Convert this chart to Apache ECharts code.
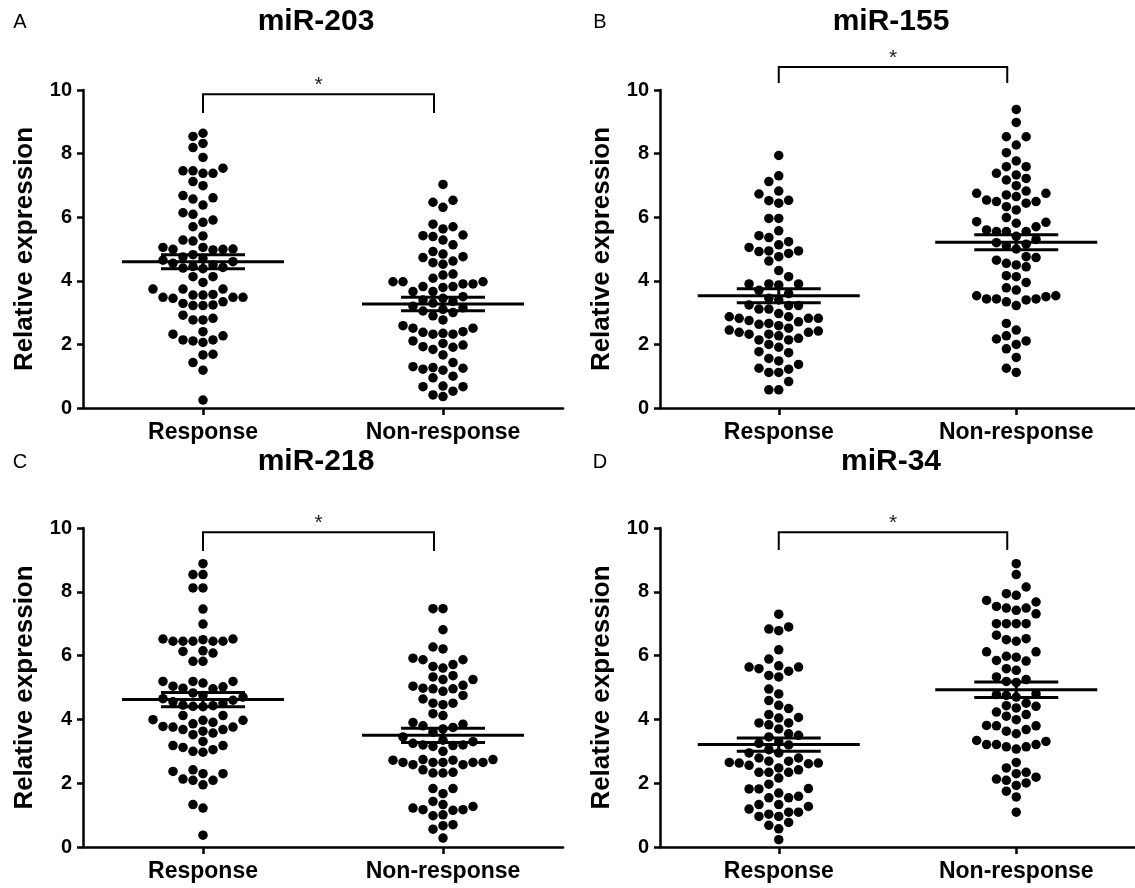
<!DOCTYPE html>
<html>
<head>
<meta charset="utf-8">
<title>miRNA expression by response</title>
<script src="https://cdn.jsdelivr.net/npm/echarts@6.0.0/dist/echarts.min.js"></script>
<style>
  html, body { margin: 0; padding: 0; background: #fff; }
  #chart { width: 1135px; height: 888px; }
</style>
</head>
<body>
<div id="chart"></div>
<script>
  // categories and axis ticks
  const categories = ['Response', 'Non-response']
  const yTicks = [0, 2, 4, 6, 8, 10]

  // values (relative expression)
  const mir203Response = [8.64, 8.54, 8.32, 8.19, 7.88, 7.54, 7.46, 7.46, 7.38, 7.38, 7.12, 6.99, 6.68, 6.61, 6.57, 6.38, 6.14, 6.09, 5.91, 5.84, 5.70, 5.41, 5.28, 5.25, 5.05, 5.05, 5.0, 4.99, 4.99, 4.97, 4.82, 4.75, 4.7, 4.65, 4.6, 4.55, 4.5, 4.45, 4.42, 4.4, 4.38, 4.13, 4.13, 3.95, 3.74, 3.74, 3.74, 3.57, 3.55, 3.55, 3.48, 3.48, 3.48, 3.45, 3.34, 3.29, 3.24, 3.22, 3.22, 2.92, 2.82, 2.77, 2.77, 2.40, 2.32, 2.27, 2.14, 2.14, 2.11, 2.06, 1.69, 1.67, 1.43, 1.19, 0.25]
  const mir203NonResponse = [7.03, 6.53, 6.47, 6.31, 5.78, 5.70, 5.63, 5.44, 5.42, 5.39, 5.28, 5.13, 4.92, 4.84, 4.76, 4.73, 4.62, 4.57, 4.52, 4.21, 4.18, 4.08, 3.97, 3.97, 3.97, 3.90, 3.90, 3.82, 3.82, 3.79, 3.66, 3.66, 3.5, 3.45, 3.4, 3.35, 3.3, 3.2, 3.15, 3.1, 3.05, 3.0, 2.9, 2.77, 2.59, 2.51, 2.51, 2.40, 2.38, 2.35, 2.32, 2.32, 2.11, 2.03, 1.98, 1.93, 1.91, 1.84, 1.67, 1.43, 1.30, 1.27, 1.25, 1.22, 1.19, 1.0, 0.95, 0.69, 0.67, 0.67, 0.53, 0.41, 0.36]
  const mir155Response = [7.94, 7.30, 7.12, 6.82, 6.73, 6.53, 6.52, 6.44, 5.96, 5.96, 5.57, 5.42, 5.36, 5.23, 5.13, 5.05, 4.94, 4.94, 4.92, 4.86, 4.76, 4.62, 4.32, 4.13, 3.90, 3.90, 3.90, 3.87, 3.7, 3.6, 3.45, 3.4, 3.24, 3.22, 3.22, 3.11, 3.11, 2.97, 2.87, 2.87, 2.82, 2.82, 2.82, 2.75, 2.71, 2.66, 2.63, 2.59, 2.51, 2.45, 2.42, 2.38, 2.38, 2.32, 2.32, 2.27, 2.19, 2.14, 2.14, 2.0, 1.91, 1.77, 1.74, 1.56, 1.48, 1.37, 1.25, 1.22, 1.12, 1.12, 0.83, 0.57, 0.57]
  const mir155NonResponse = [9.39, 8.98, 8.53, 8.53, 8.27, 8.03, 7.77, 7.59, 7.59, 7.38, 7.33, 7.22, 7.17, 6.99, 6.82, 6.75, 6.75, 6.70, 6.65, 6.54, 6.49, 6.49, 6.44, 6.33, 6.23, 5.99, 5.86, 5.84, 5.81, 5.70, 5.60, 5.55, 5.55, 5.55, 5.4, 5.3, 5.2, 5.15, 5.1, 5.0, 4.76, 4.73, 4.65, 4.55, 4.50, 4.44, 4.16, 4.13, 3.95, 3.78, 3.71, 3.53, 3.53, 3.50, 3.43, 3.43, 3.43, 3.40, 3.34, 3.22, 2.66, 2.45, 2.27, 2.17, 2.11, 2.0, 1.86, 1.59, 1.25, 1.12]
  const mir218Response = [8.88, 8.54, 8.54, 8.12, 8.12, 7.46, 6.99, 6.52, 6.52, 6.50, 6.45, 6.45, 6.45, 6.45, 6.45, 6.15, 6.13, 6.08, 5.82, 5.82, 5.19, 5.19, 5.19, 5.14, 5.04, 5.02, 4.98, 4.96, 4.83, 4.75, 4.7, 4.65, 4.6, 4.55, 4.5, 4.45, 4.43, 4.41, 4.4, 4.12, 4.12, 3.99, 3.97, 3.97, 3.91, 3.86, 3.78, 3.76, 3.76, 3.68, 3.68, 3.63, 3.57, 3.52, 3.31, 3.18, 3.18, 3.12, 3.05, 3.0, 2.97, 2.42, 2.37, 2.30, 2.30, 2.13, 2.09, 2.09, 1.95, 1.33, 1.22, 0.37]
  const mir218NonResponse = [7.47, 7.47, 6.81, 6.27, 6.21, 5.92, 5.87, 5.87, 5.72, 5.66, 5.61, 5.37, 5.33, 5.25, 5.25, 5.07, 5.04, 4.98, 4.96, 4.96, 4.88, 4.75, 4.64, 4.51, 4.51, 4.46, 4.18, 4.12, 3.9, 3.85, 3.8, 3.75, 3.7, 3.6, 3.45, 3.35, 3.3, 3.25, 3.2, 3.2, 3.18, 3.15, 3.0, 2.74, 2.74, 2.72, 2.72, 2.65, 2.65, 2.65, 2.65, 2.65, 2.58, 2.58, 2.42, 2.34, 2.32, 2.32, 1.83, 1.83, 1.67, 1.43, 1.33, 1.27, 1.22, 1.17, 1.17, 1.15, 1.01, 0.98, 0.70, 0.67, 0.56, 0.28]
  const mir34Response = [7.30, 6.90, 6.83, 6.78, 6.18, 5.89, 5.68, 5.64, 5.64, 5.59, 5.51, 5.38, 5.33, 4.95, 4.80, 4.59, 4.44, 4.34, 4.15, 4.06, 4.04, 3.89, 3.89, 3.83, 3.70, 3.55, 3.5, 3.45, 3.3, 3.25, 3.2, 3.05, 2.95, 2.95, 2.79, 2.79, 2.69, 2.69, 2.65, 2.63, 2.63, 2.61, 2.56, 2.48, 2.42, 2.34, 2.34, 2.34, 2.16, 1.97, 1.83, 1.82, 1.82, 1.69, 1.59, 1.54, 1.54, 1.33, 1.33, 1.27, 1.19, 1.09, 1.09, 1.03, 0.96, 0.96, 0.77, 0.68, 0.57, 0.23]
  const mir34NonResponse = [8.88, 8.54, 8.15, 7.94, 7.89, 7.73, 7.68, 7.54, 7.49, 7.49, 7.42, 7.31, 7.0, 7.0, 7.0, 7.0, 6.64, 6.53, 6.50, 6.45, 6.12, 6.12, 5.98, 5.95, 5.85, 5.83, 5.59, 5.54, 5.33, 5.25, 5.19, 5.16, 4.8, 4.78, 4.75, 4.7, 4.51, 4.43, 4.41, 4.36, 4.23, 4.15, 4.10, 3.99, 3.81, 3.80, 3.80, 3.68, 3.63, 3.55, 3.34, 3.31, 3.21, 3.21, 3.21, 3.14, 3.14, 3.07, 2.65, 2.48, 2.34, 2.30, 2.19, 2.13, 2.09, 2.01, 1.93, 1.75, 1.57, 1.09]

  // mean and SEM bars as drawn in the figure
  const mir203Mean = [4.6, 3.27]
  const mir203Sem = [0.22, 0.21]
  const mir155Mean = [3.53, 5.21]
  const mir155Sem = [0.22, 0.235]
  const mir218Mean = [4.62, 3.5]
  const mir218Sem = [0.22, 0.225]
  const mir34Mean = [3.21, 4.93]
  const mir34Sem = [0.21, 0.245]

  // significance bracket: top and end heights, in axis units
  const bracketTop = [9.87, 10.72, 9.87, 9.87]
  const bracketEnd = [9.28, 10.22, 9.28, 9.31]

  const titles = ['miR-203', 'miR-155', 'miR-218', 'miR-34']
  const letters = ['A', 'B', 'C', 'D']

  const FONT = 'Liberation Sans, Arial, sans-serif'
  const GRID_W = 480
  const PX_PER_X = GRID_W / 2      // x axis runs 0.5 .. 2.5
  const PX_PER_Y = 31.8
  const COL_PX = 10                // swarm column spacing
  const DOT_GAP = 10               // min vertical gap in one column

  const panels = [
    { groups: [mir203Response, mir203NonResponse], mean: mir203Mean, sem: mir203Sem, left: 83, top: 90, height: 318 },
    { groups: [mir155Response, mir155NonResponse], mean: mir155Mean, sem: mir155Sem, left: 660, top: 90, height: 318 },
    { groups: [mir218Response, mir218NonResponse], mean: mir218Mean, sem: mir218Sem, left: 83, top: 528, height: 319 },
    { groups: [mir34Response, mir34NonResponse], mean: mir34Mean, sem: mir34Sem, left: 660, top: 528, height: 319 }
  ]

  // simple column beeswarm, like the prism dot plot
  function swarm(values, cat) {
    const placed = []
    return values.slice().sort((a, b) => a - b).map(v => {
      for (let i = 0; ; i++) {
        const col = i === 0 ? 0 : (i % 2 ? -Math.ceil(i / 2) : i / 2)
        const hit = placed.some(p => p.col === col && Math.abs(p.v - v) * PX_PER_Y < DOT_GAP)
        if (!hit) {
          placed.push({ col: col, v: v })
          return [cat + col * COL_PX / PX_PER_X, v]
        }
      }
    })
  }

  const grid = []
  const xAxis = []
  const yAxis = []
  const series = []
  const graphic = []

  panels.forEach((p, i) => {
    grid.push({ left: p.left, top: p.top, width: GRID_W, height: p.height })
    xAxis.push({
      gridIndex: i,
      type: 'value',
      min: 0.5,
      max: 2.5,
      splitLine: { show: false },
      axisLine: { show: true, onZero: false, lineStyle: { color: '#000', width: 2.5 } },
      axisTick: { show: true, customValues: [1, 2], length: 7, lineStyle: { color: '#000', width: 2.5 } },
      axisLabel: {
        customValues: [1, 2],
        formatter: v => categories[Math.round(v) - 1],
        fontFamily: FONT, fontSize: 23, fontWeight: 'bold', color: '#000', margin: 13
      }
    })
    yAxis.push({
      gridIndex: i,
      type: 'value',
      min: yTicks[0],
      max: yTicks[yTicks.length - 1],
      interval: 2,
      name: 'Relative expression',
      nameLocation: 'middle',
      nameRotate: 90,
      nameGap: 45,
      nameTextStyle: { fontFamily: FONT, fontSize: 26, fontWeight: 'bold', color: '#000' },
      splitLine: { show: false },
      axisLine: { show: true, lineStyle: { color: '#000', width: 2.5 } },
      axisTick: { show: true, length: 6, lineStyle: { color: '#000', width: 2.5 } },
      axisLabel: { fontFamily: FONT, fontSize: 20, fontWeight: 'bold', color: '#000', margin: 11 }
    })

    p.groups.forEach((vals, g) => {
      series.push({
        type: 'scatter',
        xAxisIndex: i,
        yAxisIndex: i,
        symbol: 'circle',
        symbolSize: 9.5,
        itemStyle: { color: '#000', opacity: 1 },
        data: swarm(vals, g + 1),
        z: 2
      })
    })

    // mean with SEM bars
    series.push({
      type: 'custom',
      xAxisIndex: i,
      yAxisIndex: i,
      z: 5,
      data: [[1, p.mean[0], p.sem[0]], [2, p.mean[1], p.sem[1]]],
      renderItem: (params, api) => {
        const x = api.value(0), m = api.value(1), s = api.value(2)
        const c = api.coord([x, m])
        const hi = api.coord([x, m + s])
        const lo = api.coord([x, m - s])
        const st = { stroke: '#000', lineWidth: 3 }
        return {
          type: 'group',
          children: [
            { type: 'line', shape: { x1: c[0] - 81, y1: c[1], x2: c[0] + 81, y2: c[1] }, style: st },
            { type: 'line', shape: { x1: c[0] - 42, y1: hi[1], x2: c[0] + 42, y2: hi[1] }, style: st },
            { type: 'line', shape: { x1: c[0] - 42, y1: lo[1], x2: c[0] + 42, y2: lo[1] }, style: st },
            { type: 'line', shape: { x1: c[0], y1: lo[1], x2: c[0], y2: hi[1] }, style: st }
          ]
        }
      }
    })

    // significance bracket and star
    series.push({
      type: 'custom',
      xAxisIndex: i,
      yAxisIndex: i,
      clip: false,
      z: 5,
      data: [[1, 2, bracketTop[i], bracketEnd[i]]],
      renderItem: (params, api) => {
        const a = api.coord([api.value(0), api.value(2)])
        const b = api.coord([api.value(1), api.value(2)])
        const e = api.coord([api.value(0), api.value(3)])
        const xr = b[0] - 9
        return {
          type: 'group',
          children: [
            {
              type: 'polyline',
              shape: { points: [[a[0], e[1]], [a[0], a[1]], [xr, a[1]], [xr, e[1]]] },
              style: { stroke: '#000', lineWidth: 2, fill: null }
            },
            {
              type: 'text',
              style: {
                text: '*', x: (a[0] + xr) / 2, y: a[1] - 9,
                textAlign: 'center', textVerticalAlign: 'middle',
                font: '21px ' + FONT, fill: '#222'
              }
            }
          ]
        }
      }
    })

    const row = p.top < 300 ? 22 : 462
    graphic.push({
      type: 'text',
      style: { text: titles[i], x: i % 2 ? 891 : 316, y: row, textAlign: 'center', textVerticalAlign: 'middle', font: 'bold 30px ' + FONT, fill: '#000' }
    })
    graphic.push({
      type: 'text',
      style: { text: letters[i], x: i % 2 ? 600 : 20, y: row, textAlign: 'center', textVerticalAlign: 'middle', font: '20px ' + FONT, fill: '#000' }
    })
  })

  const chart = echarts.init(document.getElementById('chart'))
  chart.setOption({
    animation: false,
    backgroundColor: '#fff',
    grid: grid,
    xAxis: xAxis,
    yAxis: yAxis,
    series: series,
    graphic: graphic
  })
</script>
</body>
</html>
